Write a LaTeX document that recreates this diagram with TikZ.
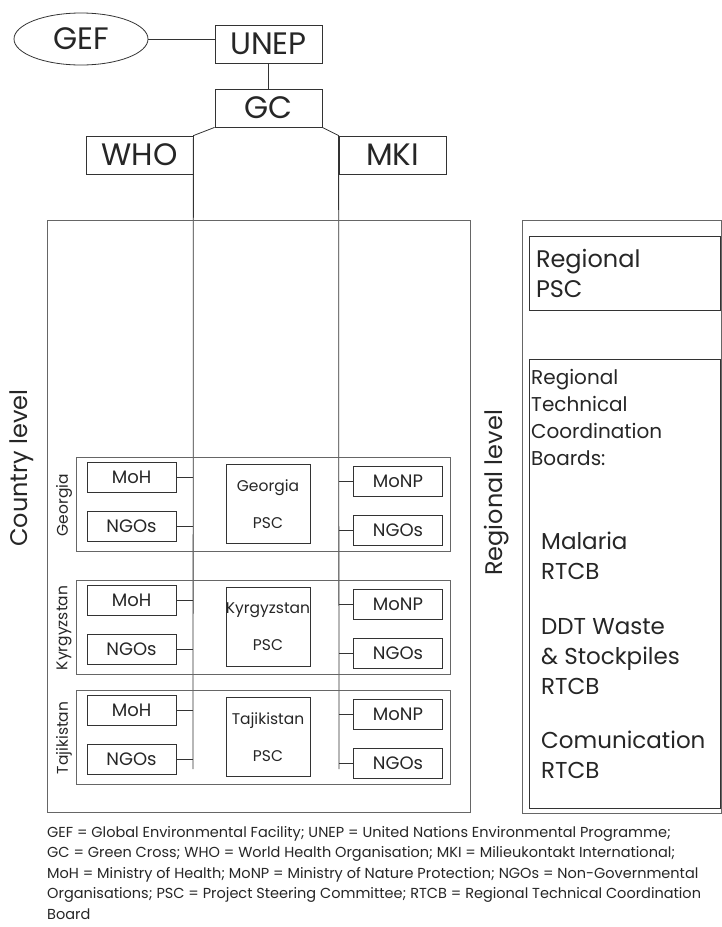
\documentclass[tikz,border=0pt]{standalone}
\usepackage{fontspec}
\setmainfont{Poppins}
\usetikzlibrary{shapes.geometric}

\tikzset{
  box/.style={draw=black!80, line width=0.8pt, inner sep=0pt, text=black!85},
  bigbox/.style={box, minimum width=107pt, minimum height=38pt, font=\fontsize{31}{32}\selectfont},
  unitbox/.style={box, minimum width=89pt, minimum height=30pt, font=\fontsize{18}{20}\selectfont},
  pscbox/.style={box, minimum width=84pt, minimum height=79pt, align=center, font=\fontsize{15.5}{37}\selectfont},
  frame/.style={draw=black!60, line width=0.8pt},
  link/.style={draw=black!80, line width=0.8pt},
  sidelabel/.style={rotate=90, inner sep=0pt, text=black!85},
  rtext/.style={anchor=north west, align=left, inner sep=0pt, text=black!85},
}

\begin{document}
\begin{tikzpicture}[x=1pt, y=-1pt]
\clip (0,0) rectangle (722,927);
% top of the chart
\node[box, ellipse, minimum width=134pt, minimum height=52pt, font=\fontsize{31}{32}\selectfont] (gef) at (81,39) {GEF};
\node[bigbox] (unep) at (268.5,44) {UNEP};
\node[bigbox] (gc) at (268.5,108) {GC};
\node[bigbox] (who) at (139.5,155) {WHO};
\node[bigbox] (mki) at (392.5,155) {MKI};
\draw[link] (gef.east) -- (gef.east -| unep.west);
\draw[link] (unep.south) -- (gc.north);
\coordinate (whoend) at (193,769);
\coordinate (mkiend) at (339,769);
\draw[link] (gc.south west) -- (who.north east) -- (whoend);
\draw[link] (gc.south east) -- (mki.north west) -- (mkiend);

% levels
\draw[frame] (47,220) rectangle (470,812);
\node[sidelabel, font=\fontsize{24}{26}\selectfont] (country) at (22,468) {Country level};
\draw[frame] (522,220) rectangle (721.5,813);
\node[sidelabel, font=\fontsize{24}{26}\selectfont] (region) at (497,493) {Regional level};

% one block per country
\foreach \t/\land in {457/Georgia, 580/Kyrgyzstan, 690/Tajikistan}{
  \draw[frame] (76,\t) rectangle (450,\t+94);
  \node[sidelabel, font=\fontsize{15.5}{17}\selectfont] (\land-label) at (64,\t+48) {\land};
  \node[unitbox] (\land-moh) at (131.5,\t+20) {MoH};
  \node[unitbox] (\land-ngo) at (131.5,\t+69) {NGOs};
  \node[pscbox] (\land-psc) at (268,\t+47) {\land\\PSC};
  \node[unitbox] (\land-monp) at (398,\t+24) {MoNP};
  \node[unitbox] (\land-ngor) at (398,\t+73) {NGOs};
  \draw[link] (\land-moh.east) -- (\land-moh.east -| whoend);
  \draw[link] (\land-ngo.east) -- (\land-ngo.east -| whoend);
  \draw[link] (\land-monp.west) -- (\land-monp.west -| mkiend);
  \draw[link] (\land-ngor.west) -- (\land-ngor.west -| mkiend);
}

% regional side
\node[box, minimum width=191pt, minimum height=74pt, text width=177pt, align=left, font=\fontsize{24}{30}\selectfont] (rpsc) at (624.5,273) {Regional\\PSC};
\node[box, minimum width=191pt, minimum height=449pt] (rtcb) at (624.5,583.5) {};
\node[rtext, font=\fontsize{20}{27}\selectfont] (boards) at (531,369) {Regional\\Technical\\Coordination\\Boards:};
\node[rtext, font=\fontsize{23}{30}\selectfont] (malaria) at (541,532) {Malaria\\RTCB};
\node[rtext, font=\fontsize{23}{30}\selectfont] (ddt) at (541,618) {DDT Waste\\\& Stockpiles\\RTCB};
\node[rtext, font=\fontsize{23}{30}\selectfont] (comm) at (541,731) {Comunication\\RTCB};

% abbreviations
\node[rtext, font=\fontsize{14.5}{20.5}\selectfont] (legend) at (47,826) {GEF = Global Environmental Facility; UNEP = United Nations Environmental Programme;\\GC = Green Cross; WHO = World Health Organisation; MKI = Milieukontakt International;\\MoH = Ministry of Health; MoNP = Ministry of Nature Protection; NGOs = Non-Governmental\\Organisations; PSC = Project Steering Committee; RTCB = Regional Technical Coordination\\Board};
\end{tikzpicture}
\end{document}
